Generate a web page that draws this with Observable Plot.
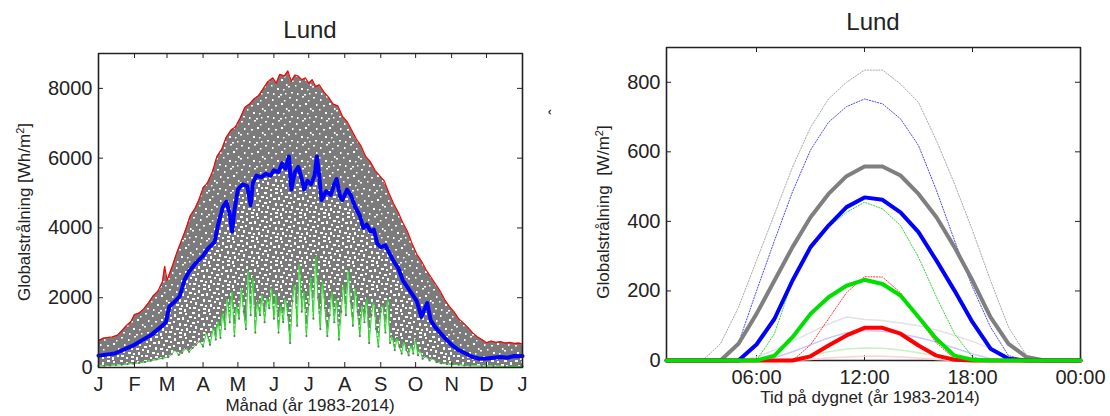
<!DOCTYPE html>
<html><head><meta charset="utf-8">
<script src="https://cdn.jsdelivr.net/npm/d3@7"></script>
<script src="https://cdn.jsdelivr.net/npm/@observablehq/plot@0.6"></script>
<style>
body{margin:0;background:#fff;}
#wrap{position:relative;width:1110px;height:416px;overflow:hidden;font-family:"Liberation Sans",Arial,Helvetica,sans-serif;color:#222;}
.abs{position:absolute;white-space:pre;}
.box{position:absolute;box-sizing:border-box;border:1.6px solid #222;}
.c{transform:translate(-50%,-50%);}
.rot{transform:translate(-50%,-50%) rotate(-90deg);}
sup{font-size:0.65em;vertical-align:0.55em;line-height:0;}
</style></head><body>
<div id="wrap">
  <div class="box" style="left:97.7px;top:52.7px;width:425.6px;height:315.6px"></div>
  <div class="box" style="left:665.7px;top:46.7px;width:415.6px;height:314.6px"></div>
  <div id="left" class="abs" style="left:0;top:0;width:555px"></div>
  <div id="right" class="abs" style="left:555px;top:0;width:555px"></div>
  <div class="abs c" style="left:310px;top:30px;font-size:24px">Lund</div>
  <div class="abs c" style="left:873px;top:22px;font-size:24px">Lund</div>
  <div class="abs rot" style="left:25px;top:212px;font-size:17px">Globalstrålning [Wh/m<sup>2</sup>]</div>
  <div class="abs rot" style="left:604px;top:212px;font-size:17px">Globalstrålning  [W/m<sup>2</sup>]</div>
  <div class="abs rot" style="left:556px;top:112px;font-size:16px">ˆ</div>
  <div class="abs c" style="left:310px;top:406px;font-size:17px">Månad (år 1983-2014)</div>
  <div class="abs c" style="left:870px;top:398px;font-size:17px">Tid på dygnet (år 1983-2014)</div>
</div>
<script>
// ---------- left panel data (day of year) ----------
const monthStarts = [0,31,59,90,120,151,181,212,243,273,304,334,365];
const monthLabels = ["J","F","M","A","M","J","J","A","S","O","N","D","J"];
const leftYTicks = [0,2000,4000,6000,8000];
const leftFrameX = [0,365,365,0,0];
const leftFrameY = [0,0,9000,9000,0];

const redDays = [0,4,8,12,16,20,24,28,31,35,39,43,47,51,55,57,59,63,67,71,75,79,83,87,90,94,98,102,106,110,114,118,122,126,130,134,138,142,146,150,153,156,160,163,166,169,172,175,178,181,184,187,190,194,198,202,206,210,214,218,222,226,230,234,238,242,246,250,254,258,262,266,270,274,278,282,286,290,294,298,302,306,310,314,318,322,326,330,334,338,342,346,350,354,358,362,365];
const redVals = [770,840,860,880,920,1050,1200,1320,1520,1560,1680,1850,2050,2180,2450,2900,2500,2850,3250,3600,3950,4350,4550,4850,5150,5300,5600,6050,6250,6600,6800,6900,7150,7450,7550,7700,7800,8000,8200,8300,8150,8400,8350,8500,8200,8380,8350,8250,8300,8150,8250,8050,8100,7900,7750,7550,7500,7200,7050,6800,6550,6350,6050,5900,5650,5500,5350,5000,4700,4450,4150,3900,3550,3250,3050,2800,2600,2400,2200,1950,1750,1600,1400,1280,1150,1000,880,800,710,760,720,740,700,720,690,700,670];

const blueDays = [0,14,31,46,55,58,61,66,70,74,78,84,90,94,100,103,107,110,113,115,117,120,124,128,131,133,136,140,144,148,151,155,158,161,164,166,169,172,175,177,180,183,186,188,190,192,196,200,203,205,208,210,214,217,221,225,228,231,234,237,240,243,247,250,254,258,262,266,270,274,278,281,283,286,290,294,298,304,310,316,322,328,334,340,346,352,358,362,365];
const blueVals = [340,400,650,950,1200,1300,1750,1900,2050,2500,2750,3000,3200,3400,3600,4100,4600,4750,4400,3900,4500,5100,5250,5200,4650,5300,5500,5450,5550,5500,5650,5600,5850,5700,6050,5100,5600,5750,5400,5100,5350,5250,5500,6050,5500,4800,5050,4950,5250,5400,4900,4800,5100,4950,4600,4350,4000,4100,3900,3950,3550,3450,3500,3300,3050,2850,2500,2300,2100,1900,1450,1700,1850,1350,1150,1000,850,650,500,400,300,250,260,280,300,280,330,320,330];

const greenDays = [0,5,10,15,20,25,30,35,40,45,50,55,60,63,66,69,72,75,78,81,84,87,90,93,96,99,
  101,103,105,107,109,111,113,115,117,119,121,123,125,127,129,131,133,135,137,139,141,143,145,147,149,
  151,153,155,157,159,161,163,165,167,169,171,173,175,177,179,181,183,185,187,189,191,193,195,197,199,
  201,203,205,207,209,211,213,215,217,219,221,223,225,227,229,231,233,235,237,239,241,243,245,247,249,
  251,253,255,257,259,261,263,265,267,269,271,273,275,277,279,282,285,288,291,295,300,305,310,315,320,330,340,350,365];
const greenVals = [40,50,60,70,80,100,110,130,160,190,230,260,300,380,500,360,420,550,450,560,650,750,600,1000,650,1150,
  800,1350,850,1600,1100,2000,1300,2200,900,1800,1400,2300,1600,1100,2800,1500,2600,1000,1900,1500,2100,1300,2000,1700,2300,
  1400,2100,1000,1800,1300,2000,1500,700,1900,2400,1200,3000,1600,2200,900,1800,2600,1400,3200,2000,1100,2500,1700,900,1500,
  2200,1300,2000,800,1600,2400,1500,2800,1900,1200,2300,1600,900,1800,1300,2000,700,1500,1900,1100,600,1600,1800,1000,2000,
  700,900,500,850,600,400,750,500,350,650,400,800,350,500,250,320,200,260,150,120,100,90,80,60,50,40,40,30,30];

// ---------- right panel data (hour of day) ----------
const hours = [1,2,3,4,5,6,7,8,9,10,11,12,13,14,15,16,17,18,19,20,21,22,23,24];
const hourTicks = [6,12,18,24];
const hourLabels = ["06:00","12:00","18:00","00:00"];
const rightYTicks = [0,200,400,600,800];
const rightFrameX = [1,24,24,1,1];
const rightFrameY = [0,0,900,900,0];

const greyDotted  = [0,0,0,48,153,287,421,556,670,752,800,835,835,795,742,632,508,374,230,96,14,0,0,0];
const blueDotted  = [0,0,0,0,50,200,345,485,605,685,730,752,738,695,618,489,345,211,96,14,0,0,0,0];
const greenDotted = [0,0,0,0,0,0,77,230,326,383,426,455,436,388,297,182,77,10,0,0,0,0,0,0];
const redDotted   = [0,0,0,0,0,0,0,0,45,120,195,241,240,195,120,50,5,0,0,0,0,0,0,0];
const greyThick   = [0,0,0,0,48,134,230,326,412,479,530,558,558,532,479,412,326,230,125,48,10,0,0,0];
const blueThick   = [0,0,0,0,0,46,120,230,326,388,441,469,462,426,369,287,201,110,34,5,0,0,0,0];
const greenThick  = [0,0,0,0,0,0,14,67,134,182,215,232,220,187,125,62,14,2,0,0,0,0,0,0];
const redThick    = [0,0,0,0,0,0,0,0,12,43,72,94,94,77,43,14,2,0,0,0,0,0,0,0];
const greyFaint   = [0,0,0,0,0,10,30,55,80,105,125,118,115,108,100,88,72,55,35,12,0,0,0,0];
const blueFaint   = [0,0,0,0,0,0,8,25,45,65,80,86,84,77,66,53,36,19,5,0,0,0,0,0];
const greenFaint  = [0,0,0,0,0,0,0,5,15,25,33,36,35,30,22,13,5,0,0,0,0,0,0,0];
const redFaint    = [0,0,0,0,0,0,0,0,3,7,10,12,12,10,7,3,0,0,0,0,0,0,0,0];

// ---------- layout ----------
const W = 555, H = 416;
const font = "'Liberation Sans', Arial, Helvetica, sans-serif";
const frameColor = "#222";
const plain = d => String(d);
const plotStyle = {fontFamily: font, fontSize: "20px", color: frameColor, background: "transparent", maxWidth: "none"};

function frameMarks(fx, fy, xTicks, yTicks, PW, PH) {
  return [
    Plot.line(fx, {x: fx, y: fy, stroke: frameColor, strokeWidth: 1.6}),
    Plot.ruleX(xTicks, {stroke: frameColor, insetTop: PH - 5}),
    Plot.ruleX(xTicks, {stroke: frameColor, insetBottom: PH - 5}),
    Plot.ruleY(yTicks, {stroke: frameColor, insetRight: PW - 5}),
    Plot.ruleY(yTicks, {stroke: frameColor, insetLeft: PW - 5})
  ];
}

const L = {ml: 98, mr: 33, mt: 53, mb: 49};
const LPW = W - L.ml - L.mr, LPH = H - L.mt - L.mb;
const monthLabelOf = Object.fromEntries(monthStarts.map((d, i) => [d, monthLabels[i]]));

const leftSvg = Plot.plot({
  width: W, height: H,
  marginLeft: L.ml, marginRight: L.mr, marginTop: L.mt, marginBottom: L.mb,
  style: plotStyle,
  x: {domain: [0, 365]},
  y: {domain: [0, 9000]},
  marks: [
    Plot.areaY(redDays, {x: redDays, y1: 0, y2: redVals, fill: "url(#speckDense)"}),
    Plot.areaY(blueDays, {x: blueDays, y1: 0, y2: blueVals, fill: "url(#speckSparse)"}),
    Plot.areaY(greenDays, {x: greenDays, y1: 0, y2: greenVals, fill: "white"}),
    Plot.line(redDays, {x: redDays, y: redVals, stroke: "#ff0000", strokeWidth: 1.2}),
    Plot.line(blueDays, {x: blueDays, y: blueVals, stroke: "#0000ff", strokeWidth: 4}),
    Plot.line(greenDays, {x: greenDays, y: greenVals, stroke: "#22e022", strokeWidth: 1}),
    Plot.dot(greenDays, {x: greenDays, y: greenVals, r: 1.1, fill: "#707070"}),
    ...frameMarks(leftFrameX, leftFrameY, monthStarts, leftYTicks, LPW, LPH),
    Plot.axisX({ticks: monthStarts, tickFormat: d => monthLabelOf[d], tickSize: 0, tickPadding: 9, label: null, fontSize: 20}),
    Plot.axisY({ticks: leftYTicks, tickFormat: plain, tickSize: 0, tickPadding: 6, label: null, fontSize: 20})
  ]
});

// speckle patterns imitating the dense cloud of grey daily dots
const defs = d3.select(leftSvg).insert("defs", ":first-child");
function speck(id, bg, rects) {
  const p = defs.append("pattern").attr("id", id).attr("patternUnits", "userSpaceOnUse").attr("width", 24).attr("height", 24);
  p.append("rect").attr("width", 24).attr("height", 24).attr("fill", bg);
  rects.forEach(([x, y, w, h]) => p.append("rect").attr("x", x).attr("y", y).attr("width", w).attr("height", h).attr("fill", "#fff"));
}
speck("speckDense", "#7b7b7b", [
  [1,1,2,1.5],[8,3,1.5,2],[14,0,2,1.5],[20,4,1.5,1.5],[4,8,1.5,2],[11,9,2,1.5],[17,7,2,2],[22,12,1.5,2],
  [0,14,2,1.5],[7,13,1.5,1.5],[13,16,2,2],[19,17,1.5,1.5],[3,20,2,1.5],[9,21,1.5,2],[16,22,2,1.5],[21,21,1.5,1.5]]);
speck("speckSparse", "#7b7b7b", [
  [0,0,3,2],[6,2,2,3],[11,0,3,2],[17,1,2,2],[21,4,3,2],[2,5,2,2],[9,6,3,2],[14,5,2,3],[19,8,2,2],
  [0,10,3,2],[5,9,2,2],[11,11,2,3],[16,12,3,2],[22,13,2,2],[3,14,2,3],[8,16,3,2],[13,17,2,2],[18,16,2,3],
  [1,19,3,2],[6,21,2,2],[11,20,3,2],[16,21,2,3],[21,19,2,2]]);
document.getElementById("left").append(leftSvg);

// ---------- right panel ----------
const R = {ml: 111, mr: 30, mt: 47, mb: 56};
const RPW = W - R.ml - R.mr, RPH = H - R.mt - R.mb;
const hourLabelOf = Object.fromEntries(hourTicks.map((d, i) => [d, hourLabels[i]]));
const dotted = "1.2,1.6";
const thin = (vals, color) => Plot.line(hours, {x: hours, y: vals, stroke: color, strokeWidth: 1, strokeDasharray: dotted});
const thick = (vals, color) => Plot.line(hours, {x: hours, y: vals, stroke: color, strokeWidth: 4});

const rightSvg = Plot.plot({
  width: W, height: H,
  marginLeft: R.ml, marginRight: R.mr, marginTop: R.mt, marginBottom: R.mb,
  style: plotStyle,
  x: {domain: [1, 24]},
  y: {domain: [0, 900]},
  marks: [
    ...frameMarks(rightFrameX, rightFrameY, hourTicks, rightYTicks, RPW, RPH),
    Plot.line(hours, {x: hours, y: greyFaint, stroke: "#e2e2e2", strokeWidth: 1.5}),
    Plot.line(hours, {x: hours, y: blueFaint, stroke: "#c8c8ff", strokeWidth: 1.5}),
    Plot.line(hours, {x: hours, y: greenFaint, stroke: "#c6f2c6", strokeWidth: 1.5}),
    Plot.line(hours, {x: hours, y: redFaint, stroke: "#ffd0d0", strokeWidth: 1.5}),
    thin(greyDotted, "#a6a6a6"),
    thin(blueDotted, "#4a4aff"),
    thin(greenDotted, "#33d633"),
    thin(redDotted, "#ff3a3a"),
    thick(greyThick, "#7f7f7f"),
    thick(blueThick, "#0000ff"),
    thick(redThick, "#ff0000"),
    thick(greenThick, "#00e000"),
    Plot.axisX({ticks: hourTicks, tickFormat: d => hourLabelOf[d], tickSize: 0, tickPadding: 9, label: null, fontSize: 20}),
    Plot.axisY({ticks: rightYTicks, tickFormat: plain, tickSize: 0, tickPadding: 6, label: null, fontSize: 20})
  ]
});
document.getElementById("right").append(rightSvg);
</script>
</body></html>
